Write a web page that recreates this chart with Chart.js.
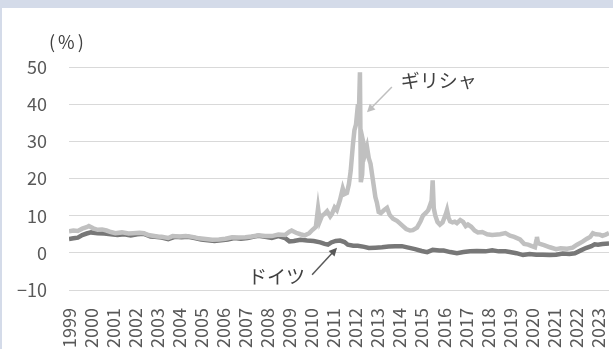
<!DOCTYPE html>
<html>
<head>
<meta charset="utf-8">
<script src="https://cdn.jsdelivr.net/npm/chart.js@4.4.1/dist/chart.umd.min.js"></script>
<style>
  html, body { margin: 0; padding: 0; }
  body { width: 613px; height: 349px; background: #d4dbe9; overflow: hidden; position: relative; }
  #frame { position: absolute; left: 2px; top: 8px; width: 611px; height: 341px; background: #fff; }
</style>
</head>
<body>
<div id="frame"><canvas id="yields" width="611" height="341"></canvas></div>
<script>
// year ticks on the x axis
const yearLabels = [1999, 2000, 2001, 2002, 2003, 2004, 2005, 2006, 2007, 2008, 2009, 2010,
  2011, 2012, 2013, 2014, 2015, 2016, 2017, 2018, 2019, 2020, 2021, 2022, 2023];
const yTicks = [-10, 0, 10, 20, 30, 40, 50];

// Greece 10y yield (%)
const greeceYears = [1999.0, 1999.2, 1999.4, 1999.6, 1999.8, 1999.9, 2000.1, 2000.3, 2000.5, 2000.7,
  2000.9, 2001.1, 2001.4, 2001.7, 2001.9, 2002.2, 2002.4, 2002.6, 2002.8, 2003.0,
  2003.2, 2003.5, 2003.7, 2004.0, 2004.3, 2004.6, 2004.9, 2005.2, 2005.5, 2005.8,
  2006.1, 2006.4, 2006.7, 2007.0, 2007.3, 2007.6, 2007.9, 2008.2, 2008.5, 2008.8,
  2009.0, 2009.1, 2009.3, 2009.5, 2009.7, 2009.9, 2010.05, 2010.2, 2010.3, 2010.38,
  2010.48, 2010.6, 2010.71, 2010.85, 2010.93, 2011.05, 2011.15, 2011.3, 2011.42, 2011.5,
  2011.61, 2011.7, 2011.78, 2011.88, 2011.95, 2012.02, 2012.11, 2012.15, 2012.2, 2012.24,
  2012.3, 2012.36, 2012.45, 2012.52, 2012.6, 2012.68, 2012.79, 2012.9, 2012.97, 2013.05,
  2013.15, 2013.3, 2013.43, 2013.55, 2013.7, 2013.88, 2014.0, 2014.15, 2014.3, 2014.47,
  2014.6, 2014.79, 2014.95, 2015.06, 2015.2, 2015.3, 2015.38, 2015.45, 2015.5, 2015.55,
  2015.62, 2015.72, 2015.83, 2015.95, 2016.1, 2016.15, 2016.22, 2016.29, 2016.4, 2016.5,
  2016.6, 2016.75, 2016.88, 2017.0, 2017.1, 2017.25, 2017.4, 2017.55, 2017.75, 2017.97,
  2018.2, 2018.56, 2018.8, 2019.01, 2019.2, 2019.46, 2019.65, 2019.83, 2020.0, 2020.14,
  2020.2, 2020.23, 2020.28, 2020.37, 2020.55, 2020.82, 2021.1, 2021.3, 2021.6, 2021.85,
  2022.05, 2022.3, 2022.5, 2022.65, 2022.77, 2022.9, 2023.09, 2023.2, 2023.35, 2023.5];
const greeceYields = [5.8, 6.0, 5.9, 6.5, 6.9, 7.2, 6.6, 6.2, 6.3, 6.0,
  5.6, 5.3, 5.5, 5.2, 5.3, 5.4, 5.3, 4.8, 4.6, 4.4,
  4.3, 4.0, 4.5, 4.4, 4.5, 4.3, 3.9, 3.7, 3.5, 3.6,
  3.8, 4.2, 4.1, 4.2, 4.4, 4.7, 4.5, 4.5, 4.9, 4.8,
  5.7, 6.0, 5.4, 5.0, 4.7, 5.3, 6.2, 7.0, 12.0, 8.5,
  10.0, 10.5, 11.2, 9.8, 10.5, 12.2, 11.5, 14.3, 17.3, 15.8,
  16.1, 18.5, 22.0, 29.0, 33.0, 34.5, 40.0, 37.0, 48.6, 19.0,
  21.0, 29.5, 27.0, 28.5, 25.5, 24.0, 19.5, 15.0, 13.5, 11.0,
  10.7, 11.5, 12.1, 10.2, 9.2, 8.6, 8.0, 7.2, 6.4, 6.0,
  6.1, 6.8, 8.5, 10.0, 10.8, 11.5, 12.8, 14.0, 19.5, 12.0,
  10.0, 8.3, 7.6, 8.2, 10.5, 11.5, 9.5, 8.5, 8.2, 8.4,
  8.0, 8.8, 8.3, 7.2, 7.6, 7.0, 6.0, 5.5, 5.6, 5.0,
  4.8, 5.0, 5.3, 4.6, 4.3, 3.6, 2.4, 2.2, 1.8, 1.5,
  3.2, 4.3, 2.6, 2.4, 2.1, 1.5, 1.0, 1.2, 1.1, 1.4,
  2.2, 3.0, 3.8, 4.3, 5.3, 5.0, 4.9, 4.6, 4.9, 5.3];

// Germany 10y yield (%)
const germanyYears = [1999.0, 1999.2, 1999.4, 1999.6, 1999.8, 2000.0, 2000.3, 2000.6, 2000.9, 2001.2,
  2001.5, 2001.8, 2002.1, 2002.4, 2002.7, 2002.9, 2003.2, 2003.5, 2003.8, 2004.1,
  2004.4, 2004.7, 2005.0, 2005.3, 2005.6, 2005.9, 2006.2, 2006.5, 2006.8, 2007.1,
  2007.4, 2007.6, 2007.9, 2008.2, 2008.5, 2008.8, 2009.0, 2009.2, 2009.5, 2009.8,
  2010.1, 2010.4, 2010.6, 2010.75, 2010.9, 2011.1, 2011.3, 2011.5, 2011.65, 2011.9,
  2012.1, 2012.4, 2012.6, 2012.9, 2013.2, 2013.5, 2013.8, 2014.1, 2014.4, 2014.7,
  2015.0, 2015.25, 2015.5, 2015.8, 2016.0, 2016.3, 2016.6, 2016.9, 2017.2, 2017.5,
  2017.9, 2018.2, 2018.5, 2018.8, 2019.0, 2019.3, 2019.6, 2019.9, 2020.2, 2020.5,
  2020.8, 2021.1, 2021.4, 2021.7, 2021.95, 2022.2, 2022.45, 2022.7, 2022.85, 2023.0,
  2023.2, 2023.5];
const germanyYields = [3.7, 3.9, 4.1, 4.8, 5.2, 5.5, 5.3, 5.2, 5.0, 4.8,
  5.0, 4.7, 5.0, 5.1, 4.4, 4.3, 4.1, 3.7, 4.3, 4.2,
  4.3, 4.0, 3.6, 3.4, 3.2, 3.4, 3.6, 4.0, 3.8, 4.0,
  4.4, 4.6, 4.3, 4.0, 4.5, 4.0, 3.1, 3.2, 3.5, 3.3,
  3.2, 2.8, 2.4, 2.2, 2.8, 3.2, 3.3, 2.9, 2.2, 1.9,
  1.9, 1.6, 1.3, 1.4, 1.5, 1.7, 1.8, 1.8, 1.4, 1.0,
  0.5, 0.2, 0.8, 0.6, 0.6, 0.2, -0.1, 0.2, 0.4, 0.5,
  0.4, 0.7, 0.4, 0.4, 0.2, -0.1, -0.6, -0.3, -0.5, -0.5,
  -0.6, -0.5, -0.2, -0.3, -0.1, 0.6, 1.3, 1.8, 2.3, 2.2,
  2.4, 2.5];

// callouts, anchored in data units: [year, %]
const greeceNote = { text: 'ギリシャ', at: [2014.05, 46.2], from: [2013.65, 44.6], to: [2012.52, 37.8] };
const germanyNote = { text: 'ドイツ', at: [2007.12, -6.5], from: [2010.03, -5.9], to: [2011.16, 1.35] };

const toPoints = (xs, ys) => xs.map((x, i) => ({ x: x, y: ys[i] }));

const FONT = '"Noto Sans CJK JP", "Noto Sans", sans-serif';

const drawArrow = (ctx, x1, y1, x2, y2, color) => {
  const ang = Math.atan2(y2 - y1, x2 - x1);
  const len = 8, half = 4;
  ctx.save();
  ctx.strokeStyle = color;
  ctx.fillStyle = color;
  ctx.lineWidth = 1.5;
  ctx.beginPath();
  ctx.moveTo(x1, y1);
  ctx.lineTo(x2 - Math.cos(ang) * len * 0.8, y2 - Math.sin(ang) * len * 0.8);
  ctx.stroke();
  ctx.beginPath();
  ctx.moveTo(x2, y2);
  ctx.lineTo(x2 - Math.cos(ang) * len - Math.sin(ang) * half, y2 - Math.sin(ang) * len + Math.cos(ang) * half);
  ctx.lineTo(x2 - Math.cos(ang) * len + Math.sin(ang) * half, y2 - Math.sin(ang) * len - Math.cos(ang) * half);
  ctx.closePath();
  ctx.fill();
  ctx.restore();
};

// unit label + callouts
const notesPlugin = {
  id: 'notes',
  afterDraw(chart) {
    const ctx = chart.ctx;
    const xs = chart.scales.x, ys = chart.scales.y;
    const px = (p) => [xs.getPixelForValue(p[0]), ys.getPixelForValue(p[1])];

    ctx.save();
    ctx.fillStyle = '#404040';
    ctx.font = '18px ' + FONT;
    ctx.letterSpacing = '3px';
    ctx.textBaseline = 'middle';
    ctx.textAlign = 'left';
    ctx.fillText('(%)', chart.chartArea.left - 20, chart.chartArea.top - 25);
    ctx.letterSpacing = '0px';

    ctx.font = '19px ' + FONT;
    [[greeceNote, '#bfbfbf'], [germanyNote, '#595959']].forEach(([n, col]) => {
      const t = px(n.at);
      ctx.fillStyle = '#404040';
      ctx.fillText(n.text, t[0], t[1]);
      const a = px(n.from), b = px(n.to);
      drawArrow(ctx, a[0], a[1], b[0], b[1], col);
    });
    ctx.restore();
  }
};

new Chart(document.getElementById('yields'), {
  type: 'line',
  data: {
    datasets: [
      {
        label: 'ギリシャ',
        data: toPoints(greeceYears, greeceYields),
        borderColor: '#c0c0c0',
        borderWidth: 4.5,
        pointRadius: 0,
        tension: 0
      },
      {
        label: 'ドイツ',
        data: toPoints(germanyYears, germanyYields),
        borderColor: '#777777',
        borderWidth: 4.5,
        pointRadius: 0,
        tension: 0
      }
    ]
  },
  options: {
    responsive: false,
    animation: false,
    layout: { padding: { top: 59, right: 4, bottom: 0, left: 0 } },
    plugins: { legend: { display: false }, tooltip: { enabled: false } },
    scales: {
      x: {
        type: 'linear',
        min: 1999,
        max: 2023.5,
        grid: { display: false },
        border: { display: false },
        afterBuildTicks: (scale) => { scale.ticks = yearLabels.map(v => ({ value: v })); },
        afterFit: (scale) => { scale.height = 59; scale.paddingLeft = 0; scale.paddingRight = 0; },
        ticks: {
          autoSkip: false,
          minRotation: 90,
          maxRotation: 90,
          padding: 10,
          color: '#595959',
          font: { family: FONT, size: 18 },
          callback: (v) => String(v)
        }
      },
      y: {
        min: -10,
        max: 50,
        afterBuildTicks: (scale) => { scale.ticks = yTicks.map(v => ({ value: v })); },
        afterFit: (scale) => { scale.width = 67; scale.paddingTop = 0; scale.paddingBottom = 0; },
        grid: { color: '#d9d9d9', lineWidth: 1, drawTicks: false },
        border: { display: false },
        ticks: {
          padding: 22,
          color: '#595959',
          font: { family: FONT, size: 18 },
          callback: (v) => (v < 0 ? '−' + Math.abs(v) : String(v))
        }
      }
    }
  },
  plugins: [notesPlugin]
});
</script>
</body>
</html>
